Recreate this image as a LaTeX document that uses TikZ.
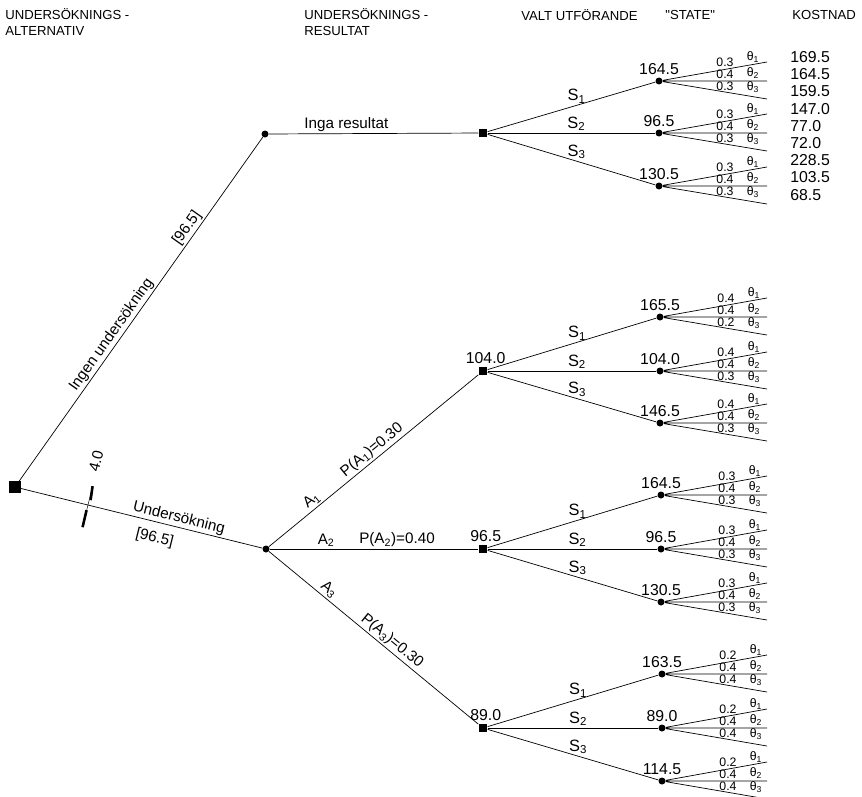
\documentclass[tikz,border=0pt]{standalone}
\usepackage{fontspec}
\setmainfont{Liberation Sans}
\usetikzlibrary{positioning}

\begin{document}
\begin{tikzpicture}[x=0.3mm,y=-0.3mm,line width=0.6pt,
    beslut/.style={fill=black,minimum size=2.6mm,inner sep=0pt},
    chans/.style={circle,fill=black,minimum size=2.1mm,inner sep=0pt},
    rubrik/.style={font=\fontsize{11.2}{13}\selectfont,anchor=west,align=left,inner sep=0pt},
    varde/.style={font=\fontsize{13.5}{15}\selectfont,inner sep=1pt},
    txt/.style={font=\fontsize{13}{15}\selectfont,inner sep=1.5pt},
    stxt/.style={font=\fontsize{14}{16}\selectfont,inner sep=1.5pt},
    sannol/.style={font=\fontsize{10.5}{11}\selectfont,inner sep=0pt},
  ]
  \useasboundingbox (0,0) rectangle (862,796);

  % rubriker
  \node[rubrik] (h1) at (5,22) {UNDERSÖKNINGS -\\ALTERNATIV};
  \node[rubrik] (h2) at (304,22) {UNDERSÖKNINGS -\\RESULTAT};
  \node[rubrik] (h3) at (521,15) {VALT UTFÖRANDE};
  \node[rubrik] (h4) at (665,15) {\textquotedbl STATE\textquotedbl};
  \node[rubrik] (h5) at (792,15) {KOSTNAD};

  % beslut och chans
  \node[beslut,minimum size=3.4mm] (root) at (15,487) {};
  \node[chans] (c0) at (265,134) {};
  \node[chans] (c1) at (266,549) {};
  \node[beslut] (d0) at (483,133) {};
  \node[beslut,label={[varde,xshift=0.8mm,label distance=0.2mm]above:104.0}] (d1) at (483,371) {};
  \node[beslut,label={[varde,xshift=0.8mm,label distance=0.2mm]above:96.5}] (d2) at (483,549) {};
  \node[beslut,label={[varde,xshift=0.8mm,label distance=0.2mm]above:89.0}] (d3) at (483,728) {};

  \draw (root) -- node[txt,sloped,above,pos=0.41] (l1) {Ingen undersökning}
        node[txt,sloped,above,pos=0.72] (l2) {[96.5]} (c0);
  \draw (root) -- node[txt,sloped,above,pos=0.645] (l3) {Undersökning}
        node[txt,sloped,below=2.2mm,pos=0.57] (l4) {[96.5]}
        coordinate[pos=0.28] (snitt) (c1);
  \draw (c0) -- node[txt,above,pos=0.37] (l5) {Inga resultat} (d0);

  \draw (c1) -- node[txt,sloped,above,pos=0.23] (a1) {A\textsubscript{1}}
        node[txt,sloped,above,pos=0.52] (pa1) {P(A\textsubscript{1})=0.30} (d1);
  \draw (c1) -- node[txt,above,pos=0.27] (a2) {A\textsubscript{2}}
        node[txt,above,pos=0.61] (pa2) {P(A\textsubscript{2})=0.40} (d2);
  \draw (c1) -- node[txt,sloped,above,pos=0.26] (a3) {A\textsubscript{3}}
        node[txt,sloped,above,pos=0.56] (pa3) {P(A\textsubscript{3})=0.30} (d3);

  % kostnad for undersokning
  \draw[line width=0.4pt] ([shift={(4,-19)}]snitt) -- ([shift={(-6,22)}]snitt);
  \draw[line width=2.2pt] ([shift={(4,-19)}]snitt) -- ([shift={(2,-5)}]snitt);
  \draw[line width=2.2pt] ([shift={(-2,5)}]snitt) -- ([shift={(-6,22)}]snitt);
  \node[txt,rotate=76] (kost) at (96,461) {4.0};

  % tillstand
  \foreach \n/\d/\k/\x/\y/\v/\pa/\pb/\pc in {
      s01/d0/1/659/81/164.5/0.3/0.4/0.3, s02/d0/2/659/133/96.5/0.3/0.4/0.3,
      s03/d0/3/659/186/130.5/0.3/0.4/0.3,
      s11/d1/1/660/317/165.5/0.4/0.4/0.2, s12/d1/2/660/371/104.0/0.4/0.4/0.3,
      s13/d1/3/660/423/146.5/0.4/0.4/0.3,
      s21/d2/1/661/495/164.5/0.3/0.4/0.3, s22/d2/2/661/549/96.5/0.3/0.4/0.3,
      s23/d2/3/661/602/130.5/0.3/0.4/0.3,
      s31/d3/1/662/674/163.5/0.2/0.4/0.4, s32/d3/2/662/728/89.0/0.2/0.4/0.4,
      s33/d3/3/662/781/114.5/0.2/0.4/0.4}
  {
    \node[chans,label={[varde,label distance=0.4mm]above:\v}] (\n) at (\x,\y) {};
    \draw (\d) -- node[stxt,above,pos=0.53] (\n-S) {S\textsubscript{\k}} (\n);
    \coordinate (\n-a) at (767,\y-19);
    \coordinate (\n-b) at (767,\y);
    \coordinate (\n-c) at (767,\y+18);
    \draw (\n) -- (\n-a) (\n) -- (\n-b) (\n) -- (\n-c);
    \node[sannol] (\n-pa) at ([shift={(66,-19)}]\n) {\pa};
    \node[sannol] (\n-pb) at ([shift={(66,-7)}]\n) {\pb};
    \node[sannol] (\n-pc) at ([shift={(66,5)}]\n) {\pc};
    \node[sannol] (\n-ta) at ([shift={(94,-24)}]\n) {θ\textsubscript{1}};
    \node[sannol] (\n-tb) at ([shift={(94,-8)}]\n) {θ\textsubscript{2}};
    \node[sannol] (\n-tc) at ([shift={(94,6)}]\n) {θ\textsubscript{3}};
  }

  % kostnader
  \foreach \v [count=\i] in {169.5,164.5,159.5,147.0,77.0,72.0,228.5,103.5,68.5}
    \node[varde,anchor=west,inner sep=0pt] (k\i) at (790,{57+17.2*(\i-1)}) {\v};
\end{tikzpicture}
\end{document}
